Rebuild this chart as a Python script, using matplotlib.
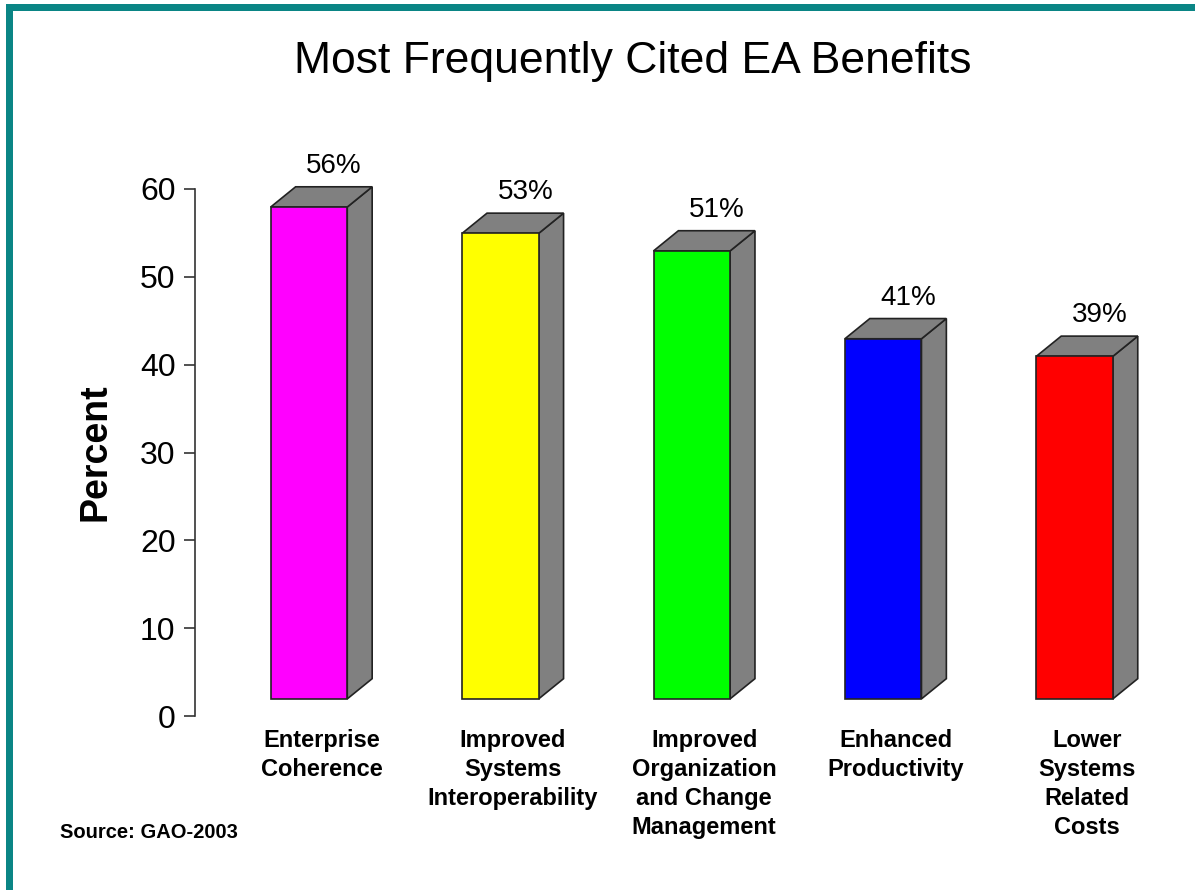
import numpy as np
import matplotlib
matplotlib.use("Agg")
import matplotlib.pyplot as plt
from matplotlib.patches import Polygon, Rectangle

plt.rcParams['font.family'] = ['Liberation Sans', 'DejaVu Sans']

# data
categories = ["Enterprise\nCoherence",
              "Improved\nSystems\nInteroperability",
              "Improved\nOrganization\nand Change\nManagement",
              "Enhanced\nProductivity",
              "Lower\nSystems\nRelated\nCosts"]
values = [56, 53, 51, 41, 39]
labels = ["56%", "53%", "51%", "41%", "39%"]
colors = ["#ff00ff", "#ffff00", "#00ff00", "#0000ff", "#ff0000"]

W, H = 1195, 890
fig = plt.figure(figsize=(W / 100, H / 100), dpi=100)
fig.patch.set_facecolor("white")

# axes placed so that y 0..60 spans the drawn axis line
ax_left, ax_right = 195, 1160
ax_bottom, ax_top = 716, 189
ax = fig.add_axes([ax_left / W, 1 - ax_bottom / H,
                   (ax_right - ax_left) / W, (ax_bottom - ax_top) / H])
ax.set_facecolor("none")

spacing = 191.4           # px between bars
x0_px = 309               # first bar center
ax.set_xlim((ax_left - x0_px) / spacing, (ax_right - x0_px) / spacing)
ax.set_ylim(0, 60)

bw = 0.40      # bar width (x units)
ddx = 0.13     # 3d depth in x
ddy = 2.3      # 3d depth in y
base = 1.95    # front face floor

x = np.arange(len(values))
for xi, v, c, lab, cat in zip(x, values, colors, labels, categories):
    l, r = xi - bw / 2, xi + bw / 2
    b, t = base, base + v
    side = Polygon([(r, b), (r + ddx, b + ddy), (r + ddx, t + ddy), (r, t)],
                   closed=True, fc="#808080", ec="#222222", lw=1.2, clip_on=False)
    top = Polygon([(l, t), (l + ddx, t + ddy), (r + ddx, t + ddy), (r, t)],
                  closed=True, fc="#808080", ec="#222222", lw=1.2, clip_on=False)
    front = Rectangle((l, b), bw, v, fc=c, ec="#222222", lw=1.2, clip_on=False)
    ax.add_patch(side)
    ax.add_patch(top)
    ax.add_patch(front)
    ax.text(xi + ddx, t + ddy + 0.9, lab, ha="center", va="bottom",
            fontsize=20, clip_on=False)
    ax.text(xi + ddx / 2, -1.5, cat, ha="center", va="top",
            fontsize=17, fontweight="bold", linespacing=1.33, clip_on=False)

for s in ["top", "right", "bottom"]:
    ax.spines[s].set_visible(False)
ax.spines["left"].set_color("#333333")
ax.spines["left"].set_linewidth(1.2)
ax.set_xticks([])
ax.set_yticks(np.arange(0, 61, 10))
ax.tick_params(axis="y", length=8, width=1.2, color="#333333",
               labelsize=23, pad=6)

fig.text(633 / W, 1 - 62 / H, "Most Frequently Cited EA Benefits",
         ha="center", va="center", fontsize=32)
fig.text(95 / W, 1 - 452 / H, "Percent", rotation=90, ha="center",
         va="center", fontsize=27, fontweight="bold")
fig.text(60 / W, 1 - 832 / H, "Source: GAO-2003", ha="left", va="center",
         fontsize=14.5, fontweight="bold")

# teal frame on top and left
teal = "#0a8585"
fig.patches.append(Rectangle((6 / W, 0), 7 / W, 1 - 4 / H, transform=fig.transFigure,
                             fc=teal, ec="none"))
fig.patches.append(Rectangle((6 / W, 1 - 11 / H), 1 - 6 / W, 7 / H,
                             transform=fig.transFigure, fc=teal, ec="none"))

fig.savefig("out.png", dpi=100)
